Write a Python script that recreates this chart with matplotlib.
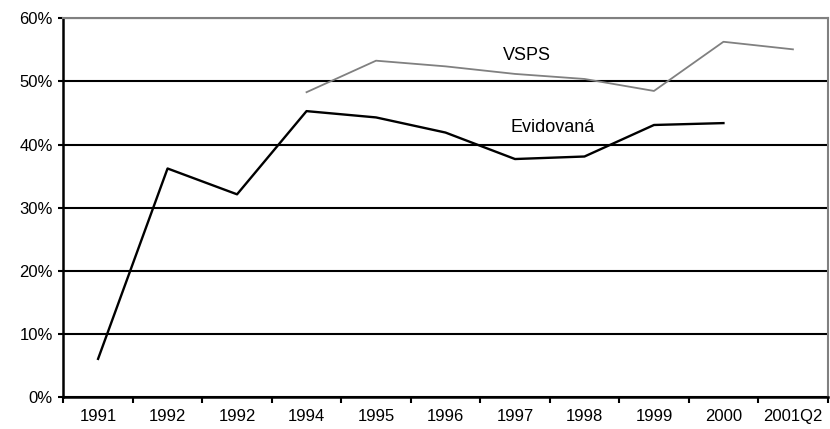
import matplotlib
matplotlib.use("Agg")
import matplotlib.pyplot as plt
from matplotlib.ticker import FixedLocator, PercentFormatter

categories = ["1991", "1992", "1992", "1994", "1995", "1996", "1997",
              "1998", "1999", "2000", "2001Q2"]
evidovana = [6.0, 36.2, 32.1, 45.3, 44.3, 41.9, 37.7, 38.1, 43.1, 43.4, None]
vsps = [None, None, None, 48.3, 53.3, 52.4, 51.2, 50.4, 48.5, 56.3, 55.1]
yticks = [0, 10, 20, 30, 40, 50, 60]

plt.rcParams["font.family"] = ["Liberation Sans", "DejaVu Sans"]

fig = plt.figure(figsize=(8.30, 4.29), dpi=100)
ax = fig.add_axes([0.0763, 0.0753, 0.9209, 0.8817])

x = list(range(len(categories)))
ev_x = [i for i, v in zip(x, evidovana) if v is not None]
ev_y = [v for v in evidovana if v is not None]
vs_x = [i for i, v in zip(x, vsps) if v is not None]
vs_y = [v for v in vsps if v is not None]

ax.plot(vs_x, vs_y, color="#808080", lw=1.3, zorder=3)
ax.plot(ev_x, ev_y, color="black", lw=1.7, zorder=4)

ax.set_xlim(-0.5, len(categories) - 0.5)
ax.set_ylim(0, 60)

# category labels centred, tick marks at the category boundaries
ax.xaxis.set_major_locator(FixedLocator([i - 0.5 for i in range(len(categories) + 1)]))
ax.xaxis.set_minor_locator(FixedLocator(x))
ax.set_xticklabels([])
ax.set_xticklabels(categories, minor=True)
ax.tick_params(axis="x", which="major", direction="out", length=4.3, width=1.5, color="black")
ax.tick_params(axis="x", which="minor", length=0, pad=9, labelsize=12)

ax.yaxis.set_major_locator(FixedLocator(yticks))
ax.yaxis.set_major_formatter(PercentFormatter(decimals=0))
ax.tick_params(axis="y", direction="out", length=3.6, width=1.5, pad=4, labelsize=12)

ax.grid(axis="y", color="black", lw=1.5, zorder=1)
ax.set_axisbelow(True)

for side in ["left", "bottom"]:
    ax.spines[side].set_color("black")
    ax.spines[side].set_linewidth(1.8)
for side in ["top", "right"]:
    ax.spines[side].set_color("#808080")
    ax.spines[side].set_linewidth(1.5)

ax.text(5.82, 54.1, "VSPS", ha="left", va="center", fontsize=13)
ax.text(5.93, 42.65, "Evidovaná", ha="left", va="center", fontsize=13)

fig.savefig("out.png", dpi=100, facecolor="white")
